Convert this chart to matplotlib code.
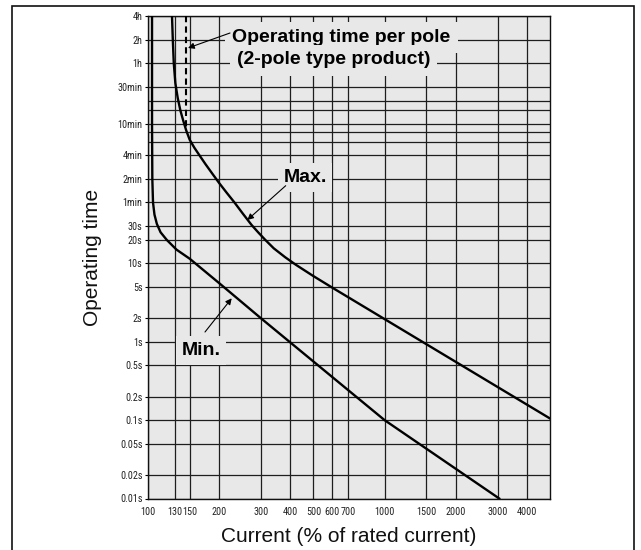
import matplotlib
matplotlib.use('Agg')
import os
import matplotlib.pyplot as plt
from matplotlib.patches import Rectangle
from matplotlib.ticker import FixedLocator, NullFormatter
from matplotlib import font_manager as fm

# ---- data (current in % of rated current, operating time in seconds) ----
max_current = [126.3, 127.3, 128.5, 130.5, 133.5, 137, 141, 145, 150, 157, 165, 175,
               187, 200, 215, 232, 252, 274, 292, 312, 340, 380, 422, 500, 605, 5000]
max_time = [14400, 7200, 3600, 2000, 1300, 900, 660, 500, 380, 300, 240, 185,
            140, 106, 80, 60, 43, 31, 25, 20.2, 15.6, 12.0, 9.6, 6.9, 4.85, 0.105]

min_current = [104, 104, 104.3, 105, 106.5, 109, 113, 120, 132, 150, 200, 300, 1000, 3050]
min_time = [14400, 600, 120, 60, 42, 32, 25, 20, 15, 11.5, 5.6, 2.0, 0.1, 0.01]

pole_current = [145, 145]
pole_time = [14400, 520]

x_ticks = [100, 130, 150, 200, 300, 400, 500, 600, 700, 1000, 1500, 2000, 3000, 4000]
x_tick_labels = [str(v) for v in x_ticks]
y_ticks = [0.01, 0.02, 0.05, 0.1, 0.2, 0.5, 1, 2, 5, 10, 20, 30, 60, 120, 240, 600,
           1800, 3600, 7200, 14400]
y_tick_labels = ['0.01s', '0.02s', '0.05s', '0.1s', '0.2s', '0.5s', '1s', '2s', '5s',
                 '10s', '20s', '30s', '1min', '2min', '4min', '10min', '30min', '1h',
                 '2h', '4h']
y_minor_ticks = [360, 480, 900, 1200]

plt.rcParams['font.family'] = ['Liberation Sans', 'DejaVu Sans']

# pick a narrow / condensed regular font for tick labels, if one is installed
cands = []
for f in fm.fontManager.ttflist:
    base = os.path.basename(f.fname).lower()
    if ('narrow' in base or 'condensed' in base) and 'bold' not in base \
            and 'italic' not in base and 'oblique' not in base and 'semi' not in base \
            and 'light' not in base and 'extra' not in base:
        cands.append(f.fname)
pref = ['liberationsansnarrow-regular', 'liberationsansnarrow', 'arialn', 'robotocondensed',
        'dejavusanscondensed', 'opensans_condensed', 'notosans-condensed']
cands.sort(key=lambda p: next((i for i, k in enumerate(pref)
                                if k in os.path.basename(p).lower().replace(' ', '')), 99))
if cands:
    tick_prop = fm.FontProperties(fname=cands[0], size=7.3)
else:
    tick_prop = fm.FontProperties(family='Liberation Sans', size=6.3)

W, H = 641, 550
fig = plt.figure(figsize=(W / 100, H / 100), dpi=100)
fig.patch.set_facecolor('white')

# outer frame
fig.patches.append(Rectangle((12 / W, -0.05), (634 - 12) / W, 1.05 - 6 / H,
                             transform=fig.transFigure, fill=False,
                             edgecolor='#111111', lw=1.2))

ax = fig.add_axes([148 / W, 1 - 498.5 / H, 402 / W, 482.5 / H])
ax.set_xscale('log')
ax.set_yscale('log')
ax.set_xlim(100, 5000)
ax.set_ylim(0.01, 14400)
ax.set_facecolor('#e8e8e8')

ax.xaxis.set_major_locator(FixedLocator(x_ticks))
ax.set_xticklabels(x_tick_labels)
ax.xaxis.set_minor_locator(FixedLocator([]))
ax.yaxis.set_major_locator(FixedLocator(y_ticks))
ax.set_yticklabels(y_tick_labels)
ax.yaxis.set_minor_locator(FixedLocator(y_minor_ticks))
ax.yaxis.set_minor_formatter(NullFormatter())

for lab in ax.get_xticklabels() + ax.get_yticklabels():
    lab.set_fontproperties(tick_prop)
    lab.set_color('#222222')

ax.tick_params(axis='x', which='both', length=0, pad=6)
ax.tick_params(axis='y', which='major', length=2.5, width=0.8, pad=1.5)
ax.tick_params(axis='y', which='minor', length=0)

ax.grid(True, which='both', color='#1e1e1e', lw=0.9)
ax.set_axisbelow(True)
for s in ax.spines.values():
    s.set_color('#111111')
    s.set_linewidth(1.0)

# curves
ax.plot(max_current, max_time, color='black', lw=1.7, zorder=4, solid_joinstyle='round')
ax.plot(min_current, min_time, color='black', lw=1.7, zorder=4, solid_joinstyle='round')
ax.plot(pole_current, pole_time, color='black', lw=1.5, dashes=(3, 2), zorder=4)

bg = '#e8e8e8'
def fx(px):
    return (px - 148) / 402
def fy(py):
    return (498.5 - py) / 482.5

lab_font = dict(fontsize=14, fontweight='bold', color='black',
                family=['Liberation Sans', 'DejaVu Sans'])

ax.text(fx(341.5), fy(41.5), 'Operating time per pole', ha='center', va='baseline',
        transform=ax.transAxes, zorder=5,
        bbox=dict(facecolor=bg, edgecolor='none', pad=5), **lab_font)
ax.text(fx(333.5), fy(64.5), '(2-pole type product)', ha='center', va='baseline',
        transform=ax.transAxes, zorder=5,
        bbox=dict(facecolor=bg, edgecolor='none', pad=5), **lab_font)
ax.text(fx(305), fy(182), 'Max.', ha='center', va='baseline',
        transform=ax.transAxes, zorder=5,
        bbox=dict(facecolor=bg, edgecolor='none', pad=4), **lab_font)
ax.text(fx(201), fy(355), 'Min.', ha='center', va='baseline',
        transform=ax.transAxes, zorder=5,
        bbox=dict(facecolor=bg, edgecolor='none', pad=4), **lab_font)

arrow = dict(arrowstyle='-|>', lw=0.8, color='black', mutation_scale=9,
             shrinkA=0, shrinkB=0)
ax.annotate('', xy=(fx(188), fy(48)), xycoords='axes fraction',
            xytext=(fx(230), fy(33)), textcoords='axes fraction',
            arrowprops=arrow, zorder=6)
ax.annotate('', xy=(fx(247.3), fy(220)), xycoords='axes fraction',
            xytext=(fx(285.7), fy(185.7)), textcoords='axes fraction',
            arrowprops=arrow, zorder=6)
ax.annotate('', xy=(fx(231.7), fy(298.3)), xycoords='axes fraction',
            xytext=(fx(205), fy(332)), textcoords='axes fraction',
            arrowprops=arrow, zorder=6)

fig.text(92 / W, 1 - 257 / H, 'Operating time', rotation=90, ha='center', va='center',
         fontsize=15, color='#111111')
fig.text(349 / W, 1 - 537 / H, 'Current (% of rated current)', ha='center', va='center',
         fontsize=15, color='#111111')

fig.savefig('out.png', dpi=100, facecolor='white')
